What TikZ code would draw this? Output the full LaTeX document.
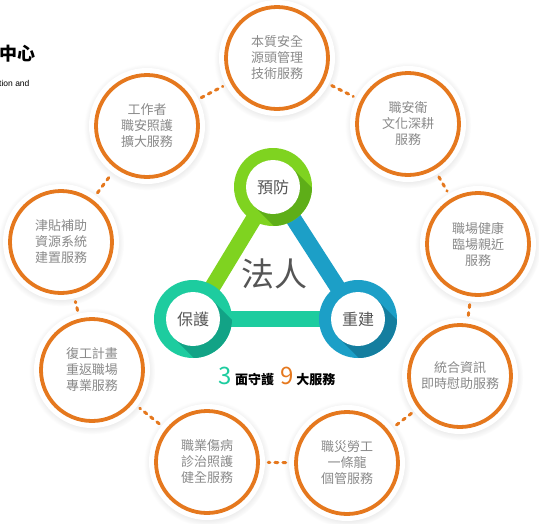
\documentclass[tikz,border=0pt]{standalone}
\usepackage{fontspec}
\newfontfamily\cjk{Noto Sans CJK TC}
\setsansfont{Liberation Sans}
\usetikzlibrary{shadows}
\definecolor{orng}{HTML}{E5781E}
\definecolor{txtg}{HTML}{8A8A8A}
\definecolor{lime}{HTML}{7FD320}
\definecolor{limed}{HTML}{5EAE18}
\definecolor{sky}{HTML}{1C9FC7}
\definecolor{skyd}{HTML}{147E9F}
\definecolor{mint}{HTML}{1DCC9F}
\definecolor{mintd}{HTML}{12A386}
\definecolor{dgray}{HTML}{555555}
\begin{document}
\begin{tikzpicture}[x=1pt,y=-1pt,
 svc/.style={circle, fill=white, minimum size=116pt, inner sep=0pt, align=center, text=txtg,
   font=\cjk\fontsize{13}{16}\selectfont,
   circular drop shadow={shadow xshift=0pt, shadow yshift=-1pt, shadow scale=1.09, opacity=0.2}},
 ring/.style={draw=orng, line width=3.8pt},
 conn/.style={draw=orng, line width=3pt, dash pattern=on 3pt off 5pt, line cap=round, shorten <=3pt, shorten >=3pt},
 hub/.style={circle, fill=white, minimum size=54pt, inner sep=0pt, text=dgray, font=\cjk\fontsize{16}{16}\selectfont},
 bar/.style={line width=16pt}
]
\useasboundingbox (0,0) rectangle (539,523);

% header fragments
\node[anchor=west, inner sep=0pt, font=\cjk\bfseries\fontsize{18}{18}\selectfont] (hd) at (-1,54) {中心};
\node[anchor=west, inner sep=0pt, font=\sffamily\fontsize{8.5}{8.5}\selectfont] (sub) at (-1,83) {tion and};

% nine service circles
\node[svc] (A) at (277,58) {本質安全\\源頭管理\\技術服務};
\node[svc] (B) at (408,124) {職安衛\\文化深耕\\服務};
\node[svc] (C) at (478,244) {職場健康\\臨場親近\\服務};
\node[svc] (D) at (460,376) {統合資訊\\即時慰助服務};
\node[svc] (E) at (347,463) {職災勞工\\一條龍\\個管服務};
\node[svc] (F) at (207,462) {職業傷病\\診治照護\\健全服務};
\node[svc] (G) at (92,370) {復工計畫\\重返職場\\專業服務};
\node[svc] (H) at (61,242) {津貼補助\\資源系統\\建置服務};
\node[svc] (I) at (147,126) {工作者\\職安照護\\擴大服務};

\foreach \n in {A,B,C,D,E,F,G,H,I} \draw[ring] (\n.center) circle (51pt);

\draw[conn] (A) -- (B);
\draw[conn] (B) -- (C);
\draw[conn] (C) -- (D);
\draw[conn] (D) -- (E);
\draw[conn] (E) -- (F);
\draw[conn] (F) -- (G);
\draw[conn] (G) -- (H);
\draw[conn] (H) -- (I);
\draw[conn] (I) -- (A);

% central triangle
\coordinate (pc) at (273,187);
\coordinate (bc) at (193,319);
\coordinate (rc) at (358,319);
\draw[bar, lime] (pc) -- (bc);
\draw[bar, sky] (pc) -- (rc);
\draw[bar, mint] (bc) -- (rc);

\foreach \c/\col/\dcol in {pc/lime/limed, bc/mint/mintd, rc/sky/skyd}{
  \fill[\col] (\c) circle (39pt);
  \begin{scope}
    \clip (\c) circle (39pt);
    \fill[\dcol] (\c) ++(19.1,-19.1) -- ++(60,60) -- ++(-38.2,38.2) -- ++(-60,-60) -- cycle;
  \end{scope}
}
\node[hub] (pf) at (pc) {預防};
\node[hub] (bh) at (bc) {保護};
\node[hub] (cj) at (rc) {重建};

\node[font=\cjk\fontsize{33}{33}\selectfont, text=dgray] (fr) at (274,274) {法人};

\node[font=\cjk\bfseries\fontsize{13}{13}\selectfont, inner sep=0pt] (tag) at (277,376)
 {{\mdseries\color{mint}\fontsize{24}{24}\selectfont 3}\hspace{3pt}面守護\hspace{6pt}{\mdseries\color{orng}\fontsize{24}{24}\selectfont 9}\hspace{3pt}大服務};
\end{tikzpicture}
\end{document}
